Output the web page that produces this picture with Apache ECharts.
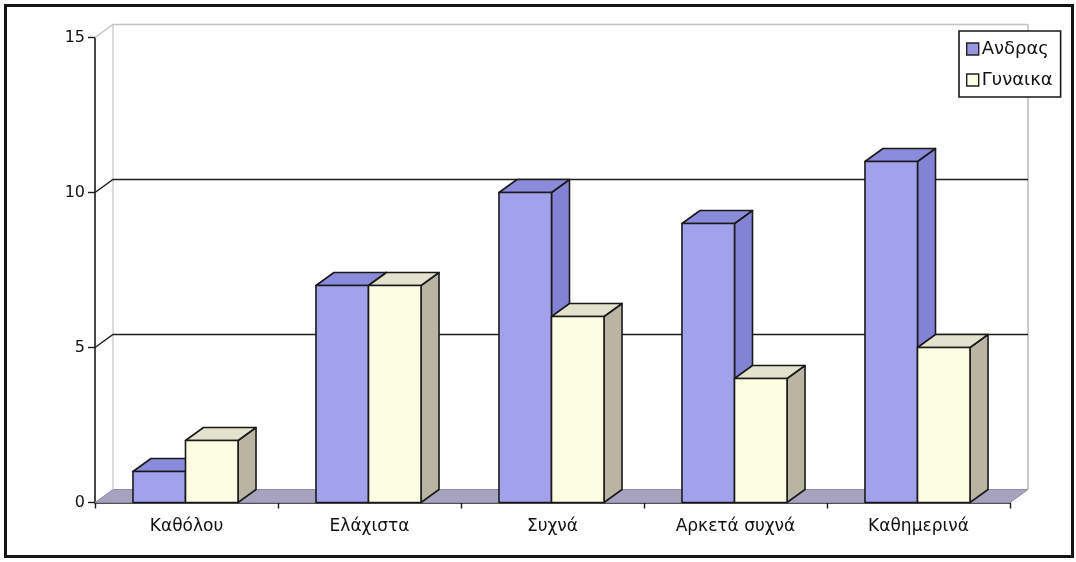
<!DOCTYPE html>
<html>
<head>
<meta charset="utf-8">
<script src="https://cdn.jsdelivr.net/npm/echarts@6/dist/echarts.min.js"></script>
<style>
  html, body { margin: 0; padding: 0; background: #ffffff; }
  #chart { width: 1076px; height: 562px; }
</style>
</head>
<body>
<div id="chart"></div>
<script>
// Frequency answers per gender
const categories = ['Καθόλου', 'Ελάχιστα', 'Συχνά', 'Αρκετά συχνά', 'Καθημερινά'];
const andras = [1, 7, 10, 9, 11];
const gynaika = [2, 7, 6, 4, 5];
const seriesNames = ['Ανδρας', 'Γυναικα'];
const yTicks = [0, 5, 10, 15];

// depth offset of the pseudo-3D box (pixels)
const DX = 18, DY = -13;
const FONT = '"DejaVu Sans", "Liberation Sans", Arial, sans-serif';

const palette = {
  andras: { front: '#a2a2ec', top: '#8b8bdc', side: '#8383d6' },
  gynaika: { front: '#fdfde4', top: '#e3e3cd', side: '#b9b5a2' }
};

function barRenderer(slot, col) {
  return function (params, api) {
    const i = api.value(0), v = api.value(1);
    const base = api.coord([i, 0]);
    const top = api.coord([i, v]);
    const band = api.size([1, 0])[0];
    const w = band * 0.287;
    const x0 = (slot === 0 ? base[0] - w : base[0]) - 1;
    const x1 = x0 + w;
    const yb = base[1], yt = top[1];
    const stroke = { stroke: '#1a1a1a', lineWidth: 1.6, lineJoin: 'round' };
    return {
      type: 'group',
      children: [
        { type: 'polygon', shape: { points: [[x1, yb], [x1 + DX, yb + DY], [x1 + DX, yt + DY], [x1, yt]] },
          style: Object.assign({ fill: col.side }, stroke) },
        { type: 'polygon', shape: { points: [[x0, yt], [x1, yt], [x1 + DX, yt + DY], [x0 + DX, yt + DY]] },
          style: Object.assign({ fill: col.top }, stroke) },
        { type: 'rect', shape: { x: x0, y: yt, width: w, height: yb - yt },
          style: Object.assign({ fill: col.front }, stroke) }
      ]
    };
  };
}

function wallRenderer(params, api) {
  const band = api.size([1, 0])[0];
  const xa = api.coord([0, 0])[0] - band / 2;
  const xb = api.coord([categories.length - 1, 0])[0] + band / 2;
  const yAt = v => api.coord([0, v])[1];
  const y0 = yAt(0);
  const yMax = yAt(yTicks[yTicks.length - 1]);
  const children = [];
  // floor
  children.push({ type: 'polygon',
    shape: { points: [[xa, y0], [xb, y0], [xb + DX, y0 + DY], [xa + DX, y0 + DY]] },
    style: { fill: '#a7a3be', stroke: '#8f8ba8', lineWidth: 1 } });
  // side edges of the back wall
  children.push({ type: 'polyline', shape: { points: [[xa + DX, y0 + DY], [xa + DX, yMax + DY]] },
    style: { stroke: '#cfcfcf', lineWidth: 1.5, fill: null } });
  children.push({ type: 'polyline', shape: { points: [[xb + DX, y0 + DY], [xb + DX, yMax + DY]] },
    style: { stroke: '#b8b8b8', lineWidth: 1.5, fill: null } });
  // gridlines on the left wall and back wall
  yTicks.slice(1).forEach(t => {
    const y = yAt(t);
    const light = t === yTicks[yTicks.length - 1];
    children.push({ type: 'polyline',
      shape: { points: [[xa, y], [xa + DX, y + DY], [xb + DX, y + DY]] },
      style: { stroke: light ? '#c4c4c4' : '#1e1e1e', lineWidth: light ? 1.5 : 1.4, fill: null } });
  });
  return { type: 'group', children: children };
}

const chart = echarts.init(document.getElementById('chart'), null, { renderer: 'canvas' });

chart.setOption({
  backgroundColor: '#ffffff',
  animation: false,
  grid: { left: 95, right: 66, top: 37.5, bottom: 59.5 },
  legend: {
    orient: 'vertical',
    left: 959,
    top: 31,
    padding: [9, 8, 8, 7],
    itemGap: 13,
    itemWidth: 12,
    itemHeight: 12,
    icon: 'rect',
    backgroundColor: '#ffffff',
    borderColor: '#1a1a1a',
    borderWidth: 1.6,
    textStyle: { fontFamily: FONT, fontSize: 18, color: '#111', padding: [0, 0, 0, -2] },
    data: [
      { name: seriesNames[0], itemStyle: { color: '#9797e0', borderColor: '#222', borderWidth: 1.4 } },
      { name: seriesNames[1], itemStyle: { color: '#fdfde8', borderColor: '#222', borderWidth: 1.4 } }
    ]
  },
  xAxis: {
    type: 'category',
    data: categories,
    boundaryGap: true,
    axisLine: { show: true, lineStyle: { color: '#1a1a1a', width: 1.6 } },
    axisTick: { show: true, length: 6, lineStyle: { color: '#1a1a1a', width: 1.4 } },
    axisLabel: { fontFamily: FONT, fontSize: 17, color: '#111', margin: 16 },
    splitLine: { show: false }
  },
  yAxis: {
    type: 'value',
    min: 0,
    max: 15,
    interval: 5,
    axisLine: { show: true, lineStyle: { color: '#1a1a1a', width: 1.6 } },
    axisTick: { show: true, length: 7, lineStyle: { color: '#1a1a1a', width: 1.4 } },
    axisLabel: { fontFamily: FONT, fontSize: 16, color: '#111', margin: 10 },
    splitLine: { show: false }
  },
  graphic: [
    { type: 'rect', z: 100, silent: true,
      shape: { x: 5.5, y: 5.5, width: 1067, height: 551 },
      style: { fill: null, stroke: '#151515', lineWidth: 3 } }
  ],
  series: [
    {
      name: 'walls',
      type: 'custom',
      coordinateSystem: 'cartesian2d',
      renderItem: wallRenderer,
      data: [[0, 0]],
      clip: false,
      z: 1,
      silent: true
    },
    {
      name: seriesNames[0],
      type: 'custom',
      coordinateSystem: 'cartesian2d',
      renderItem: barRenderer(0, palette.andras),
      encode: { x: 0, y: 1 },
      itemStyle: { color: '#9797e0' },
      data: andras.map((v, i) => [i, v]),
      clip: false,
      z: 2
    },
    {
      name: seriesNames[1],
      type: 'custom',
      coordinateSystem: 'cartesian2d',
      renderItem: barRenderer(1, palette.gynaika),
      encode: { x: 0, y: 1 },
      itemStyle: { color: '#fdfde8' },
      data: gynaika.map((v, i) => [i, v]),
      clip: false,
      z: 3
    }
  ]
});
</script>
</body>
</html>
